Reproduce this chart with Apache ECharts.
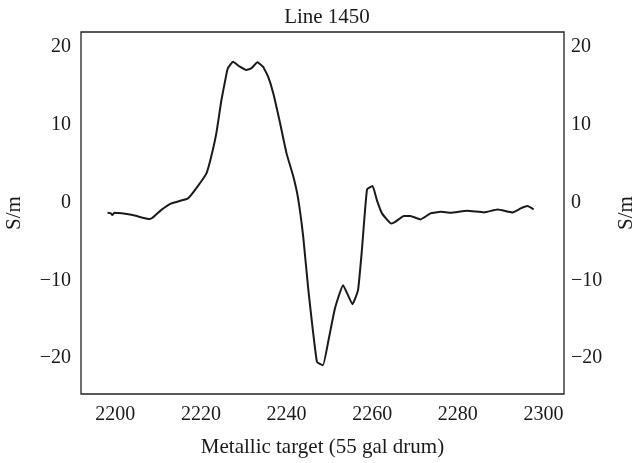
<!DOCTYPE html>
<html>
<head>
<meta charset="utf-8">
<script src="https://cdn.jsdelivr.net/npm/echarts@6/dist/echarts.min.js"></script>
<style>
  html, body { margin: 0; padding: 0; background: #fff; }
  #chart { width: 638px; height: 463px; }
</style>
</head>
<body>
<div id="chart"></div>
<script>
// distance along line (x) and conductivity reading (S/m)
const position = [
  2198.2, 2199.0, 2199.3, 2199.8, 2204.1, 2208.0, 2208.7, 2210.7, 2213.1, 2217.0,
  2218.9, 2221.3, 2222.4, 2223.6, 2224.8, 2226.0, 2226.3, 2227.5, 2229.1, 2230.6,
  2231.8, 2233.2, 2234.5, 2235.7, 2236.9, 2238.5, 2240.0, 2241.6, 2242.7, 2243.9,
  2245.1, 2247.1, 2248.5, 2249.8, 2251.3, 2253.2, 2255.4, 2256.7, 2257.6, 2258.8,
  2260.1, 2261.1, 2262.3, 2264.4, 2265.4, 2267.4, 2268.9, 2271.3, 2273.6, 2276.0,
  2278.3, 2282.2, 2286.1, 2289.3, 2292.8, 2294.7, 2296.3, 2297.7
];
const conductivity = [
  -1.32, -1.40, -1.62, -1.32, -1.62, -2.13, -1.97, -0.98, -0.12, 0.53,
  1.81, 3.74, 5.87, 8.88, 13.16, 16.59, 17.24, 18.08, 17.44, 17.02,
  17.24, 18.01, 17.44, 16.16, 14.02, 10.17, 6.31, 3.30, 0.53, -4.41,
  -11.26, -20.48, -20.90, -17.69, -13.61, -10.62, -13.06, -11.26, -6.12, 1.68,
  2.11, 0.31, -1.40, -2.69, -2.48, -1.75, -1.75, -2.17, -1.40, -1.20,
  -1.32, -1.07, -1.27, -0.89, -1.27, -0.76, -0.46, -0.89
];
const xTicks = [2200, 2220, 2240, 2260, 2280, 2300];
const yTicks = [-20, -10, 0, 10, 20];

const FONT = '"Liberation Serif", "DejaVu Serif", serif';
const INK = '#1a1a1a';

const chart = echarts.init(document.getElementById('chart'));

const fmt = (v) => String(v).replace('-', '\u2212');

function yAxis(pos) {
  return {
    type: 'value',
    position: pos,
    min: -24.6,
    max: 21.9,
    name: 'S/m',
    nameLocation: 'middle',
    nameRotate: 90,
    nameGap: pos === 'left' ? 56 : 52,
    nameTextStyle: { fontFamily: FONT, fontSize: 21, color: INK },
    axisLine: { show: false },
    axisTick: { show: false },
    splitLine: { show: false },
    axisLabel: {
      customValues: yTicks,
      formatter: fmt,
      margin: pos === 'left' ? 10 : 7,
      fontFamily: FONT,
      fontSize: 20,
      color: INK
    }
  };
}

chart.setOption({
  animation: false,
  backgroundColor: '#fff',
  title: {
    text: 'Line 1450',
    left: 322,
    textAlign: 'center',
    top: 2,
    textStyle: { fontFamily: FONT, fontSize: 21, fontWeight: 'normal', color: INK }
  },
  grid: {
    left: 81,
    right: 74,
    top: 32,
    bottom: 69,
    containLabel: false,
    outerBoundsMode: 'none',
    show: true,
    borderColor: '#222',
    borderWidth: 1.3,
    backgroundColor: 'transparent'
  },
  xAxis: {
    type: 'value',
    min: 2192,
    max: 2304.8,
    name: 'Metallic target (55 gal drum)',
    nameLocation: 'middle',
    nameGap: 43,
    nameTextStyle: { fontFamily: FONT, fontSize: 21, color: INK },
    axisLine: { show: false },
    axisTick: { show: false },
    splitLine: { show: false },
    axisLabel: {
      customValues: xTicks,
      formatter: (v) => String(v),
      margin: 11,
      fontFamily: FONT,
      fontSize: 20,
      color: INK
    }
  },
  yAxis: [yAxis('left'), yAxis('right')],
  series: [{
    type: 'line',
    yAxisIndex: 0,
    data: position.map((x, i) => [x, conductivity[i]]),
    showSymbol: false,
    smooth: 0.12,
    lineStyle: { color: INK, width: 2 }
  }]
});
</script>
</body>
</html>
